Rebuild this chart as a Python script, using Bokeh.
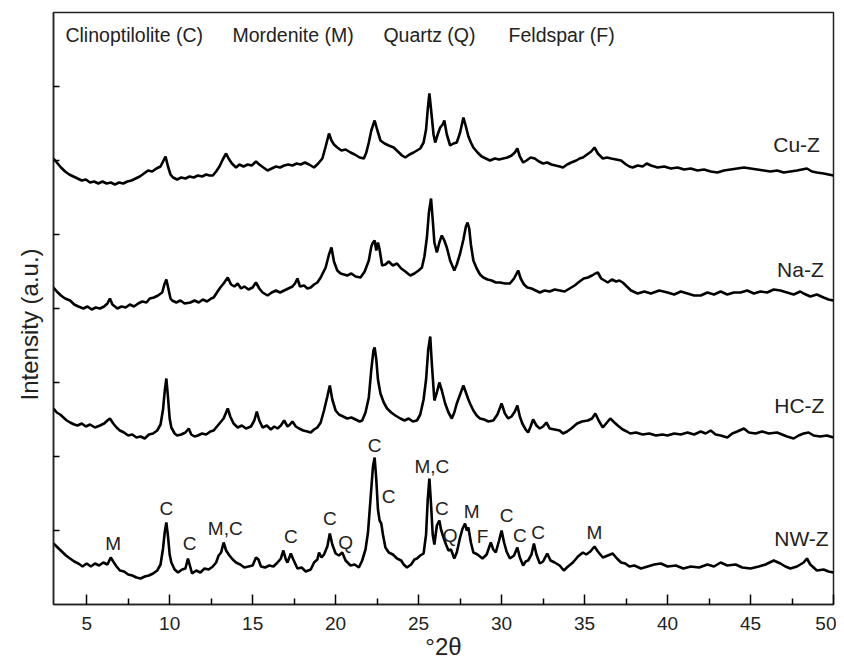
from bokeh.plotting import figure
from bokeh.models import Range1d, FixedTicker, Title
from bokeh.core.properties import value
from bokeh.embed import file_html
from bokeh.resources import INLINE

FONT = "Liberation Sans"

# ---- XRD patterns (2theta in degrees, intensity in a.u., already offset) ----
nw_x = [3.0, 3.25, 3.5, 3.75, 4.0, 4.25, 4.5, 4.75, 5.0, 5.25, 5.5, 5.75, 6.0, 6.25, 6.45, 6.6, 6.8, 7.0, 7.25, 7.5,
        7.75, 8.0, 8.25, 8.5, 8.75, 9.0, 9.25, 9.45, 9.6, 9.7, 9.8, 9.9, 10.0, 10.1, 10.3, 10.5, 10.75, 10.95, 11.1, 11.2,
        11.35, 11.6, 11.85, 12.1, 12.35, 12.6, 12.8, 12.95, 13.1, 13.25, 13.4, 13.6, 13.8, 14.0, 14.25, 14.5, 14.75, 15.0, 15.2, 15.35,
        15.5, 15.75, 16.0, 16.25, 16.5, 16.7, 16.85, 17.0, 17.1, 17.3, 17.45, 17.7, 17.95, 18.2, 18.5, 18.7, 18.9, 19.0, 19.15, 19.3,
        19.5, 19.65, 19.8, 20.0, 20.2, 20.4, 20.6, 20.9, 21.15, 21.4, 21.6, 21.8, 21.95, 22.1, 22.25, 22.35, 22.45, 22.55, 22.65, 22.75,
        22.85, 23.0, 23.2, 23.45, 23.7, 23.95, 24.1, 24.3, 24.55, 24.75, 24.9, 25.1, 25.3, 25.45, 25.55, 25.65, 25.75, 25.85, 25.95, 26.1,
        26.25, 26.35, 26.5, 26.65, 26.8, 26.95, 27.15, 27.3, 27.5, 27.65, 27.8, 27.9, 28.0, 28.15, 28.3, 28.55, 28.85, 29.1, 29.35, 29.5,
        29.65, 29.85, 30.0, 30.15, 30.3, 30.5, 30.75, 30.95, 31.1, 31.3, 31.45, 31.6, 31.8, 31.95, 32.1, 32.3, 32.5, 32.75, 32.95, 33.2,
        33.5, 33.75, 34.0, 34.3, 34.6, 34.9, 35.1, 35.35, 35.6, 35.8, 36.1, 36.4, 36.7, 36.95, 37.2, 37.45, 37.7, 38.0, 38.4, 38.8,
        39.2, 39.6, 40.0, 40.5, 40.95, 41.4, 41.9, 42.4, 42.8, 43.2, 43.6, 44.1, 44.5, 45.0, 45.5, 45.9, 46.4, 46.8, 47.1, 47.4,
        47.8, 48.2, 48.4, 48.6, 49.0, 49.4, 49.7, 50.0]
nw_y = [61, 57, 53, 49, 46, 43, 41, 38, 41, 38, 41, 39, 42, 40, 47, 43, 38, 34, 33, 30,
        29, 27, 26, 28, 29, 31, 34, 40, 56, 72, 82, 68, 50, 42, 35, 32, 35, 36, 46, 40,
        31, 34, 32, 36, 35, 38, 42, 49, 52, 62, 54, 49, 45, 42, 40, 37, 38, 39, 47, 45,
        38, 37, 39, 38, 42, 46, 54, 45, 42, 51, 45, 36, 37, 33, 35, 42, 45, 52, 47, 50,
        58, 71, 60, 51, 49, 52, 44, 39, 40, 37, 44, 55, 72, 105, 138, 147, 125, 95, 84, 81,
        70, 57, 52, 50, 46, 44, 40, 37, 40, 45, 46, 49, 51, 70, 105, 126, 100, 70, 60, 79,
        84, 75, 67, 60, 54, 55, 46, 52, 67, 76, 81, 74, 77, 62, 52, 50, 46, 50, 62, 55,
        52, 64, 74, 62, 53, 46, 49, 57, 47, 39, 43, 44, 50, 61, 50, 41, 43, 51, 44, 42,
        39, 34, 38, 42, 48, 52, 50, 53, 58, 53, 47, 49, 51, 46, 42, 41, 38, 39, 36, 38,
        40, 41, 38, 39, 36, 38, 37, 40, 38, 42, 39, 40, 37, 36, 38, 40, 44, 41, 38, 36,
        38, 42, 46, 40, 34, 35, 33, 32]

hc_x = [3.0, 3.2, 3.4, 3.6, 3.8, 4.0, 4.25, 4.45, 4.7, 4.95, 5.2, 5.5, 5.8, 6.05, 6.25, 6.4, 6.6, 6.8, 7.0, 7.25,
        7.5, 7.75, 8.0, 8.25, 8.5, 8.75, 9.0, 9.25, 9.45, 9.6, 9.7, 9.8, 9.9, 10.0, 10.1, 10.3, 10.45, 10.7, 10.95, 11.15,
        11.3, 11.5, 11.7, 11.95, 12.2, 12.45, 12.65, 12.85, 13.05, 13.25, 13.5, 13.65, 13.85, 14.1, 14.35, 14.6, 14.9, 15.1, 15.25, 15.4,
        15.6, 15.85, 16.1, 16.3, 16.5, 16.7, 16.9, 17.1, 17.25, 17.4, 17.6, 17.8, 18.05, 18.3, 18.5, 18.7, 18.9, 19.1, 19.3, 19.5,
        19.65, 19.8, 20.0, 20.2, 20.45, 20.7, 20.95, 21.2, 21.45, 21.6, 21.8, 22.0, 22.15, 22.28, 22.35, 22.45, 22.55, 22.7, 22.9, 23.1,
        23.35, 23.6, 23.9, 24.15, 24.4, 24.65, 24.9, 25.1, 25.3, 25.45, 25.58, 25.7, 25.8, 25.95, 26.1, 26.25, 26.4, 26.6, 26.8, 27.0,
        27.15, 27.3, 27.5, 27.7, 27.85, 28.0, 28.1, 28.3, 28.5, 28.7, 28.95, 29.2, 29.5, 29.75, 30.0, 30.2, 30.4, 30.6, 30.8, 30.95,
        31.1, 31.25, 31.45, 31.6, 31.75, 31.9, 32.1, 32.3, 32.5, 32.7, 32.9, 33.2, 33.5, 33.7, 33.95, 34.2, 34.55, 34.85, 35.2, 35.45,
        35.65, 35.85, 36.1, 36.35, 36.55, 36.8, 37.0, 37.3, 37.55, 37.75, 38.1, 38.5, 38.9, 39.3, 39.7, 40.0, 40.4, 40.8, 41.2, 41.6,
        42.0, 42.3, 42.6, 42.9, 43.2, 43.6, 43.9, 44.2, 44.6, 44.9, 45.3, 45.7, 46.1, 46.6, 46.9, 47.2, 47.6, 47.9, 48.2, 48.5,
        48.8, 49.2, 49.6, 50.0]
hc_y = [196, 192, 190, 187, 184, 182, 180, 179, 181, 178, 180, 177, 179, 181, 184, 186, 181, 177, 174, 172,
        169, 170, 167, 168, 166, 170, 171, 174, 180, 195, 213, 226, 207, 186, 177, 171, 169, 170, 172, 176,
        170, 168, 169, 171, 170, 173, 174, 178, 182, 186, 196, 188, 181, 177, 179, 176, 178, 184, 193, 184,
        177, 179, 175, 178, 176, 179, 184, 178, 180, 183, 178, 176, 174, 173, 172, 175, 177, 182, 194, 208,
        219, 205, 194, 190, 188, 186, 187, 185, 183, 184, 192, 207, 235, 254, 257, 245, 225, 211, 202, 196,
        192, 189, 186, 184, 186, 183, 184, 190, 205, 225, 255, 268, 240, 204, 212, 222, 214, 201, 192, 186,
        192, 201, 210, 219, 212, 205, 201, 194, 189, 186, 185, 183, 184, 190, 201, 191, 186, 188, 193, 199,
        188, 181, 175, 172, 178, 185, 179, 176, 178, 182, 176, 175, 174, 171, 173, 176, 181, 183, 184, 186,
        191, 184, 177, 182, 186, 182, 179, 175, 173, 171, 172, 170, 171, 169, 170, 169, 171, 170, 172, 170,
        173, 171, 174, 170, 169, 167, 171, 173, 176, 172, 171, 173, 171, 172, 170, 168, 166, 169, 171, 172,
        169, 168, 169, 167]

na_x = [3.0, 3.2, 3.45, 3.7, 4.0, 4.25, 4.5, 4.8, 5.05, 5.3, 5.55, 5.8, 6.05, 6.25, 6.4, 6.55, 6.85, 7.1, 7.35, 7.6,
        7.85, 8.1, 8.35, 8.6, 8.8, 9.05, 9.3, 9.55, 9.68, 9.8, 9.92, 10.05, 10.15, 10.4, 10.65, 10.9, 11.25, 11.5, 11.75, 12.0,
        12.25, 12.5, 12.65, 12.85, 13.05, 13.25, 13.5, 13.7, 13.9, 14.1, 14.3, 14.5, 14.75, 15.0, 15.2, 15.4, 15.6, 15.9, 16.15, 16.4,
        16.65, 16.9, 17.15, 17.4, 17.55, 17.7, 17.85, 18.1, 18.3, 18.5, 18.7, 18.9, 19.1, 19.4, 19.6, 19.75, 19.9, 20.1, 20.3, 20.5,
        20.7, 20.95, 21.2, 21.5, 21.75, 22.0, 22.15, 22.25, 22.35, 22.45, 22.55, 22.65, 22.8, 23.0, 23.2, 23.45, 23.7, 23.95, 24.2, 24.5,
        24.75, 25.0, 25.2, 25.35, 25.5, 25.62, 25.75, 25.85, 25.95, 26.1, 26.25, 26.4, 26.55, 26.7, 26.9, 27.15, 27.3, 27.5, 27.7, 27.85,
        27.95, 28.05, 28.15, 28.3, 28.5, 28.7, 28.9, 29.15, 29.4, 29.65, 29.9, 30.2, 30.5, 30.75, 31.0, 31.15, 31.35, 31.55, 31.8, 32.05,
        32.3, 32.6, 32.9, 33.2, 33.5, 33.8, 34.1, 34.4, 34.7, 34.95, 35.2, 35.45, 35.65, 35.8, 36.0, 36.2, 36.4, 36.65, 36.9, 37.1,
        37.3, 37.55, 37.8, 38.2, 38.6, 39.0, 39.5, 40.0, 40.4, 40.8, 41.2, 41.6, 42.0, 42.4, 42.8, 43.2, 43.6, 44.0, 44.4, 44.8,
        45.2, 45.6, 46.0, 46.4, 46.8, 47.2, 47.6, 48.0, 48.2, 48.6, 49.0, 49.4, 49.7, 50.0]
na_y = [317, 313, 309, 306, 304, 300, 298, 296, 298, 295, 297, 296, 298, 301, 306, 300, 296, 298, 297, 300,
        298, 301, 303, 302, 306, 307, 309, 312, 320, 325, 316, 306, 304, 302, 304, 301, 302, 304, 302, 305,
        303, 306, 307, 312, 317, 321, 327, 320, 318, 321, 316, 318, 315, 317, 322, 316, 312, 309, 312, 314,
        312, 314, 316, 318, 321, 326, 318, 319, 316, 317, 320, 322, 327, 337, 350, 357, 343, 334, 331, 330,
        329, 331, 328, 327, 333, 344, 358, 362, 364, 354, 362, 355, 339, 340, 343, 339, 341, 336, 333, 329,
        331, 334, 337, 348, 367, 392, 406, 385, 362, 352, 362, 369, 364, 357, 344, 334, 340, 351, 365, 378,
        382, 376, 360, 344, 336, 330, 327, 325, 324, 322, 322, 321, 321, 326, 334, 326, 320, 317, 316, 314,
        312, 314, 313, 315, 314, 313, 316, 319, 323, 326, 327, 329, 331, 332, 326, 324, 322, 325, 323, 324,
        322, 318, 314, 311, 313, 311, 314, 312, 310, 313, 311, 309, 309, 312, 310, 313, 310, 312, 312, 314,
        311, 313, 312, 315, 314, 312, 310, 313, 311, 308, 310, 307, 305, 304]

cu_x = [3.0, 3.2, 3.45, 3.7, 3.95, 4.2, 4.45, 4.7, 4.95, 5.2, 5.45, 5.7, 5.95, 6.2, 6.45, 6.7, 6.95, 7.2, 7.45, 7.7,
        7.95, 8.2, 8.45, 8.7, 8.95, 9.2, 9.45, 9.6, 9.75, 9.9, 10.05, 10.2, 10.45, 10.7, 10.95, 11.2, 11.45, 11.7, 11.95, 12.2,
        12.4, 12.6, 12.8, 13.0, 13.2, 13.4, 13.55, 13.75, 14.0, 14.2, 14.45, 14.7, 14.95, 15.2, 15.4, 15.65, 15.9, 16.15, 16.4, 16.65,
        16.9, 17.15, 17.4, 17.65, 17.9, 18.15, 18.4, 18.7, 18.95, 19.2, 19.4, 19.6, 19.75, 19.9, 20.1, 20.35, 20.6, 20.9, 21.15, 21.45,
        21.7, 21.85, 22.0, 22.15, 22.35, 22.5, 22.7, 22.95, 23.2, 23.5, 23.75, 24.0, 24.2, 24.45, 24.7, 24.9, 25.1, 25.3, 25.45, 25.55,
        25.65, 25.75, 25.9, 26.0, 26.15, 26.3, 26.45, 26.55, 26.7, 26.9, 27.1, 27.3, 27.5, 27.7, 27.85, 28.0, 28.15, 28.3, 28.55, 28.8,
        29.05, 29.3, 29.6, 29.85, 30.1, 30.35, 30.6, 30.8, 30.95, 31.1, 31.3, 31.5, 31.75, 32.0, 32.25, 32.5, 32.75, 33.0, 33.25, 33.5,
        33.7, 33.95, 34.2, 34.5, 34.7, 34.9, 35.15, 35.4, 35.6, 35.8, 36.1, 36.35, 36.6, 36.9, 37.2, 37.5, 37.7, 37.9, 38.2, 38.5,
        38.75, 39.0, 39.4, 39.8, 40.2, 40.6, 41.0, 41.4, 41.8, 42.2, 42.6, 43.0, 43.4, 43.8, 44.2, 44.6, 45.0, 45.4, 45.8, 46.2,
        46.6, 47.0, 47.4, 47.8, 48.1, 48.4, 48.7, 49.0, 49.4, 49.7, 50.0]
cu_y = [446, 442, 437, 433, 430, 428, 426, 424, 425, 422, 423, 421, 423, 421, 422, 420, 422, 421, 423, 424,
        426, 428, 431, 434, 433, 436, 438, 443, 448, 438, 430, 427, 425, 427, 426, 428, 427, 429, 428, 430,
        429, 429, 433, 438, 445, 451, 446, 441, 437, 440, 438, 440, 439, 443, 440, 437, 434, 436, 438, 437,
        439, 440, 439, 441, 440, 442, 440, 437, 441, 446, 458, 471, 464, 460, 457, 454, 455, 452, 450, 447,
        446, 452, 462, 474, 484, 475, 464, 461, 459, 457, 453, 449, 447, 450, 452, 454, 456, 462, 475, 495,
        511, 495, 470, 462, 470, 477, 480, 484, 470, 459, 461, 462, 472, 487, 478, 468, 462, 457, 452, 448,
        446, 444, 446, 445, 446, 447, 449, 452, 456, 448, 442, 444, 447, 446, 443, 441, 442, 440, 439, 438,
        437, 440, 442, 444, 446, 447, 450, 453, 457, 451, 446, 447, 446, 445, 444, 440, 438, 437, 439, 438,
        441, 439, 437, 438, 436, 437, 435, 436, 434, 435, 433, 432, 434, 435, 436, 437, 436, 435, 434, 433,
        434, 432, 433, 434, 435, 436, 433, 432, 431, 430, 429]

series = ["Cu-Z", "Na-Z", "HC-Z", "NW-Z"]
series_label_x = [46.37, 46.6, 46.43, 46.43]
series_label_y = [460, 335, 199, 66]

# phase assignments on the NW-Z pattern
peak_text = ["M", "C", "C", "M,C", "C", "C", "Q", "C", "C", "M,C", "C", "Q", "M", "F", "C", "C", "C", "M"]
peak_x = [6.6, 9.8, 11.2, 13.35, 17.3, 19.65, 20.6, 22.35, 23.2, 25.8, 26.4, 26.9, 28.2, 28.85, 30.3, 31.1, 32.2, 35.6]
peak_y = [61, 96, 61, 76, 68, 86, 62, 159, 108, 138, 96, 69, 93, 68, 89, 69, 72, 72]

phase_text = ["Clinoptilolite (C)", "Mordenite (M)", "Quartz (Q)", "Feldspar (F)"]
phase_x = [3.72, 13.78, 22.88, 30.42]
phase_y = [570, 570, 570, 570]

x_ticks = [5, 10, 15, 20, 25, 30, 35, 40, 45, 50]
x_minor = [7.5, 12.5, 17.5, 22.5, 27.5, 32.5, 37.5, 42.5, 47.5]
y_ticks = [74, 148, 222, 296, 370, 444, 518]

p = figure(frame_width=780, frame_height=592, output_backend="svg", toolbar_location=None,
           x_range=Range1d(3, 50), y_range=Range1d(0, 592),
           min_border_left=53, min_border_right=3, min_border_top=12, min_border_bottom=52)
p.background_fill_color = "white"
p.border_fill_color = "white"
p.xgrid.visible = False
p.ygrid.visible = False
p.outline_line_color = "#222222"
p.outline_line_width = 1.5

for xs, ys in [(cu_x, cu_y), (na_x, na_y), (hc_x, hc_y), (nw_x, nw_y)]:
    p.line(xs, ys, line_color="black", line_width=2.6)

# axes
xa = p.xaxis[0]
xa.ticker = FixedTicker(ticks=x_ticks, minor_ticks=x_minor)
xa.major_tick_in = 10
xa.major_tick_out = 0
xa.minor_tick_in = 6
xa.minor_tick_out = 0
xa.axis_line_width = 1.5
xa.axis_line_color = "#222222"
xa.major_tick_line_width = 1.5
xa.minor_tick_line_width = 1.5
xa.major_label_text_font = FONT
xa.major_label_text_font_size = "19px"
xa.major_label_text_color = "#222222"
xa.major_label_standoff = 12
xa.axis_label = "°2θ"
xa.axis_label_text_font = FONT
xa.axis_label_text_font_size = "24px"
xa.axis_label_text_font_style = "normal"
xa.axis_label_text_color = "#222222"
xa.axis_label_standoff = 0

ya = p.yaxis[0]
ya.ticker = FixedTicker(ticks=y_ticks, minor_ticks=[])
ya.major_tick_in = 6
ya.major_tick_out = 0
ya.minor_tick_in = 0
ya.minor_tick_out = 0
ya.axis_line_width = 1.5
ya.axis_line_color = "#222222"
ya.major_tick_line_width = 1.5
ya.major_label_overrides = {t: "" for t in y_ticks}
ya.major_label_text_font_size = "1px"

# y-axis title, starting a little below the frame centre as in the original
title_kw = dict(text="Intensity (a.u.)", align="left", offset=204, vertical_align="middle",
                text_font=FONT, text_font_size="24px", text_font_style="normal",
                text_color="#222222")
if "standoff" in Title.properties():
    title_kw["standoff"] = 20
p.add_layout(Title(**title_kw), "left")

p.text(x=series_label_x, y=series_label_y, text=series, text_font=value(FONT),
       text_font_size="21px", text_color="#222222", text_align="left", text_baseline="middle")
p.text(x=peak_x, y=peak_y, text=peak_text, text_font=value(FONT),
       text_font_size="19px", text_color="#222222", text_align="center", text_baseline="middle")
p.text(x=phase_x, y=phase_y, text=phase_text, text_font=value(FONT),
       text_font_size="19.5px", text_color="#222222", text_align="left", text_baseline="middle")

open("out.html", "w").write(file_html(p, INLINE))
